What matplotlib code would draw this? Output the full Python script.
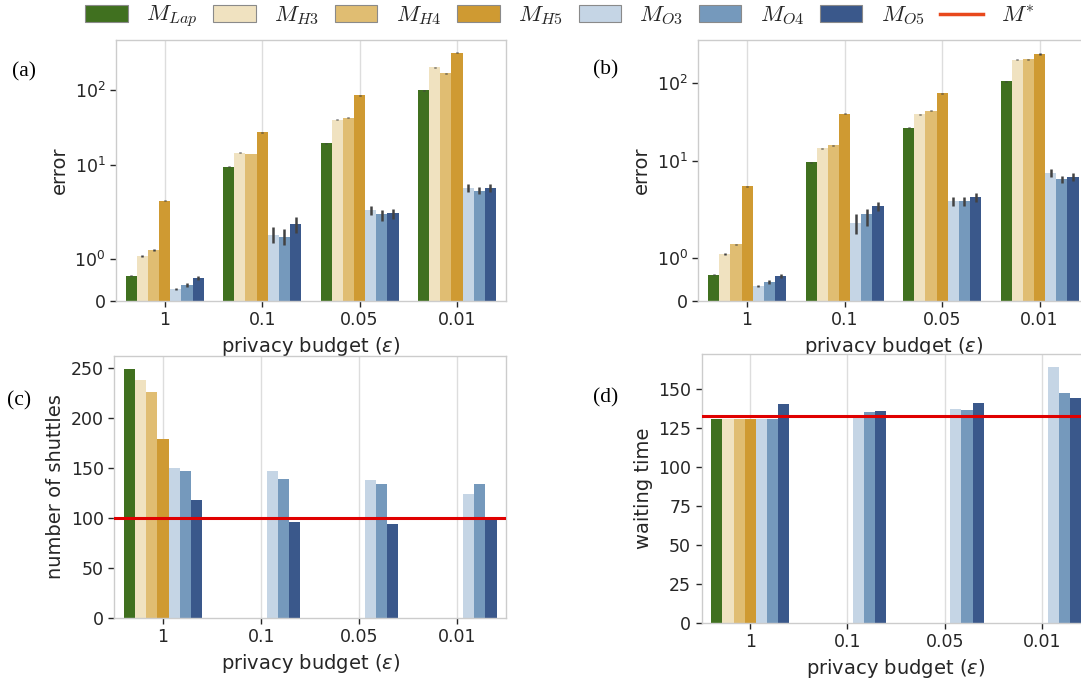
import numpy as np
import matplotlib

matplotlib.use("Agg")
import matplotlib.pyplot as plt
from matplotlib.patches import Patch
from matplotlib.lines import Line2D

plt.rcParams["font.family"] = ["DejaVu Sans"]
plt.rcParams["mathtext.fontset"] = "dejavusans"
plt.rcParams["text.color"] = "#262626"
plt.rcParams["axes.labelcolor"] = "#262626"
plt.rcParams["xtick.color"] = "#262626"
plt.rcParams["ytick.color"] = "#262626"

budgets = ["1", "0.1", "0.05", "0.01"]
methods = ["M_Lap", "M_H3", "M_H4", "M_H5", "M_O3", "M_O4", "M_O5"]
legend_labels = [
    "$M_{Lap}$", "$M_{H3}$", "$M_{H4}$", "$M_{H5}$",
    "$M_{O3}$", "$M_{O4}$", "$M_{O5}$",
]
colors = ["#40701f", "#f0e2c0", "#e0bd72", "#cf9a32", "#c5d5e5", "#7599bc", "#3a588b"]

# (a) error, rows = methods, cols = budgets
err_a = [
    [0.60, 9.5, 19.4, 98.6],
    [1.07, 14.6, 40.1, 200.0],
    [1.22, 14.0, 42.7, 166.0],
    [3.33, 27.2, 84.7, 314.0],
    [0.28, 1.58, 2.51, 5.0],
    [0.38, 1.53, 2.21, 4.55],
    [0.54, 1.83, 2.26, 5.0],
]
ci_a = [
    [0.01, 0.15, 0.3, 1.5],
    [0.02, 0.2, 0.6, 3.0],
    [0.02, 0.2, 0.6, 3.0],
    [0.05, 0.4, 1.3, 6.0],
    [0.03, 0.2, 0.35, 0.6],
    [0.04, 0.2, 0.3, 0.5],
    [0.05, 0.2, 0.3, 0.6],
]

# (b) error
err_b = [
    [0.60, 9.5, 26.4, 105.6],
    [1.08, 14.4, 39.5, 199.0],
    [1.31, 15.7, 43.8, 203.0],
    [4.64, 40.0, 74.0, 236.0],
    [0.34, 1.80, 2.97, 6.98],
    [0.44, 2.04, 2.97, 5.78],
    [0.58, 2.59, 3.35, 6.19],
]
ci_b = [
    [0.01, 0.15, 0.4, 1.6],
    [0.02, 0.2, 0.6, 3.0],
    [0.02, 0.2, 0.6, 3.0],
    [0.07, 0.6, 1.2, 6.0],
    [0.03, 0.25, 0.4, 0.8],
    [0.04, 0.3, 0.4, 0.6],
    [0.05, 0.35, 0.45, 0.7],
]

# (c) number of shuttles
shuttles = [
    [249, np.nan, np.nan, np.nan],
    [238, np.nan, np.nan, np.nan],
    [226, np.nan, np.nan, np.nan],
    [178.5, np.nan, np.nan, np.nan],
    [150, 147, 138, 124],
    [147, 139, 134, 134],
    [117.5, 96, 94, 99],
]
shuttles_ref = 99.5

# (d) waiting time
waiting = [
    [131, np.nan, np.nan, np.nan],
    [131, np.nan, np.nan, np.nan],
    [131, np.nan, np.nan, np.nan],
    [131, np.nan, np.nan, np.nan],
    [131, 132, 137.2, 164.1],
    [131, 135.3, 136.5, 147.6],
    [140.4, 135.9, 140.8, 144.2],
]
waiting_ref = 132.7

bar_w = 0.8 / len(methods)


def draw_bars(ax, values, ci=None):
    x = np.arange(len(budgets))
    for i, (vals, c) in enumerate(zip(values, colors)):
        pos = x - 0.4 + bar_w * (i + 0.5)
        ax.bar(pos, vals, width=bar_w, color=c, linewidth=0, zorder=2)
        if ci is not None:
            ax.errorbar(pos, vals, yerr=ci[i], fmt="none", ecolor="#424242",
                        elinewidth=1.8, capsize=0, zorder=3)
    ax.set_xticks(x)
    ax.set_xticklabels(budgets)
    ax.set_xlim(-0.5, 3.5)
    ax.set_xlabel("privacy budget ($\\varepsilon$)", fontsize=14)


def style(ax):
    ax.set_facecolor("white")
    for s in ax.spines.values():
        s.set_color("#cccccc")
        s.set_linewidth(1.0)
    ax.grid(axis="x", color="#dddddd", linewidth=1.0, zorder=0)
    ax.grid(axis="y", visible=False)
    ax.set_axisbelow(True)
    ax.tick_params(axis="both", which="major", labelsize=12.5, length=4,
                   width=1.0, color="#262626")
    ax.tick_params(axis="both", which="minor", length=0)


fig = plt.figure(figsize=(10.81, 6.79), dpi=100)

ax_a = fig.add_axes([0.1073, 0.5571, 0.3605, 0.3847])
ax_b = fig.add_axes([0.6460, 0.5571, 0.3608, 0.3840])
ax_c = fig.add_axes([0.1055, 0.0898, 0.3629, 0.3863])
ax_d = fig.add_axes([0.6490, 0.0825, 0.3599, 0.3957])

for ax, vals, ci, top in [(ax_a, err_a, ci_a, 470), (ax_b, err_b, ci_b, 360)]:
    ax.set_yscale("symlog", linthresh=2)
    draw_bars(ax, vals, ci)
    ax.set_ylim(0, top)
    ax.set_yticks([0, 1, 10, 100])
    ax.set_yticklabels(["0", "$\\mathdefault{10^{0}}$", "$\\mathdefault{10^{1}}$",
                        "$\\mathdefault{10^{2}}$"])
    ax.yaxis.set_minor_locator(matplotlib.ticker.NullLocator())
    ax.set_ylabel("error", fontsize=14)
    style(ax)

draw_bars(ax_c, shuttles)
ax_c.axhline(shuttles_ref, color="#e00000", linewidth=2.2, zorder=4)
ax_c.set_ylim(0, 262)
ax_c.set_yticks([0, 50, 100, 150, 200, 250])
ax_c.set_ylabel("number of shuttles", fontsize=14)
style(ax_c)

draw_bars(ax_d, waiting)
ax_d.axhline(waiting_ref, color="#e00000", linewidth=2.2, zorder=4)
ax_d.set_ylim(0, 172.3)
ax_d.set_yticks([0, 25, 50, 75, 100, 125, 150])
ax_d.set_ylabel("waiting time", fontsize=14)
style(ax_d)

for label, x, y in [("(a)", 0.0115, 0.894), ("(b)", 0.549, 0.897),
                    ("(c)", 0.0065, 0.409), ("(d)", 0.5485, 0.414)]:
    fig.text(x, y, label, family="Liberation Serif", fontsize=15.5,
             color="black", va="center", ha="left")

handles = [Patch(facecolor=c, edgecolor="#8a8a8a", linewidth=0.8) for c in colors]
handles.append(Line2D([0], [0], color="#e8481c", linewidth=2.5))
legend_font = matplotlib.font_manager.FontProperties(size=16.5, math_fontfamily="cm")
fig.legend(handles, legend_labels + ["$M^{*}$"], loc="center", ncol=8,
           bbox_to_anchor=(0.518, 0.975), frameon=False, prop=legend_font,
           handlelength=1.85, columnspacing=0.7, handletextpad=0.8)

fig.savefig("out.png", dpi=100, facecolor="white")
